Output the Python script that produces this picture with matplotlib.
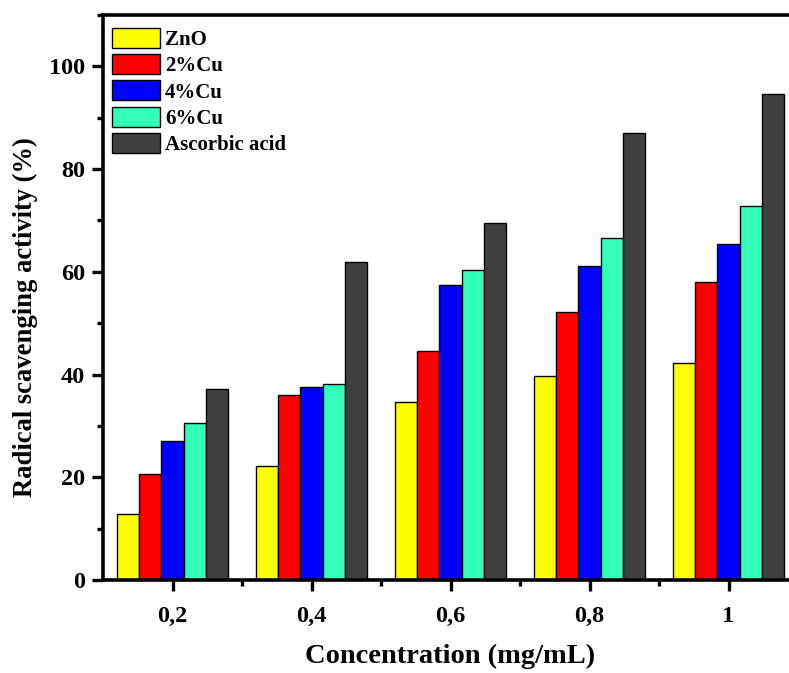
import matplotlib
matplotlib.use("Agg")
import matplotlib.pyplot as plt
from matplotlib.ticker import MultipleLocator, FixedLocator
import numpy as np

concentrations = ["0,2", "0,4", "0,6", "0,8", "1"]
series_names = ["ZnO", "2%Cu", "4%Cu", "6%Cu", "Ascorbic acid"]
zno = [12.8, 22.1, 34.6, 39.7, 42.2]
cu2 = [20.6, 36.1, 44.6, 52.2, 58.0]
cu4 = [27.1, 37.5, 57.4, 61.2, 65.4]
cu6 = [30.6, 38.2, 60.4, 66.5, 72.8]
ascorbic = [37.2, 61.9, 69.5, 87.0, 94.7]
colors = ["#FFFF00", "#FF0000", "#0000FF", "#33FFBB", "#404040"]

plt.rcParams["font.family"] = ["Liberation Serif", "DejaVu Serif"]
plt.rcParams["font.weight"] = "bold"

fig = plt.figure(figsize=(7.89, 6.73), dpi=100)
ax_w, ax_h = 695, 565
ax = fig.add_axes([103 / 789, 1 - 580 / 673, ax_w / 789, ax_h / 673])

x = np.arange(len(concentrations))
width = 0.16
all_series = [zno, cu2, cu4, cu6, ascorbic]
for i, (vals, name, col) in enumerate(zip(all_series, series_names, colors)):
    ax.bar(x + (i - 2) * width, vals, width, color=col, edgecolor="black",
           linewidth=1.0, label=name)

ax.set_xlim(-0.5, 4.5)
ax.set_ylim(0, 110)
ax.set_xticks(x)
ax.set_xticklabels(concentrations)
ax.xaxis.set_minor_locator(FixedLocator([0.5, 1.5, 2.5, 3.5]))
ax.set_yticks([0, 20, 40, 60, 80, 100])
ax.yaxis.set_minor_locator(MultipleLocator(10))

for side in ["left", "bottom", "top", "right"]:
    ax.spines[side].set_linewidth(2.6)

ax.tick_params(axis="both", which="major", direction="out", length=8,
               width=2.4, labelsize=17.5, pad=5)
ax.tick_params(axis="both", which="minor", direction="out", length=4,
               width=2.4)
for lbl in ax.get_xticklabels() + ax.get_yticklabels():
    lbl.set_fontweight("bold")
ax.tick_params(axis="x", which="major", pad=11)

ax.set_xlabel("Concentration (mg/mL)", fontsize=20.5, fontweight="bold",
              labelpad=12)
ax.set_ylabel("Radical scavenging activity (%)", fontsize=19.2,
              fontweight="bold")
ax.yaxis.set_label_coords(-0.094, 0.466)

leg = ax.legend(loc="upper left", frameon=False,
                bbox_to_anchor=(9 / ax_w, 1 - 13 / ax_h),
                handlelength=2.3, handleheight=1.1, labelspacing=0.2,
                handletextpad=0.25, borderpad=0, borderaxespad=0,
                prop={"weight": "bold", "size": 15})

fig.savefig("out.png", dpi=100)
